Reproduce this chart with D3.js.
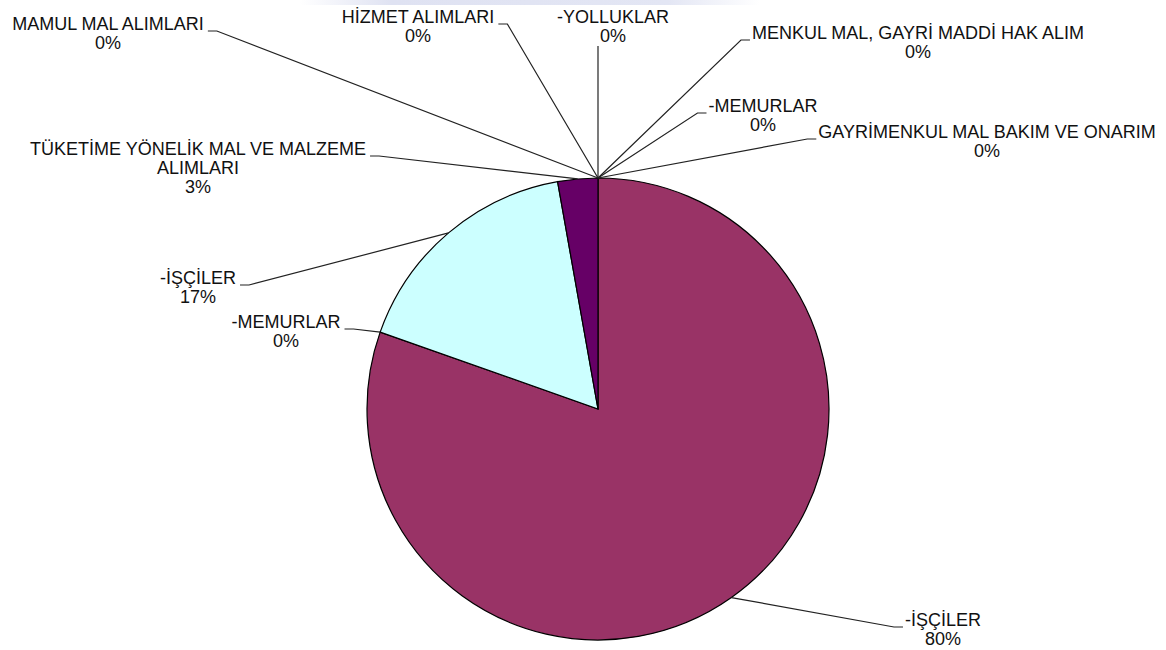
<!DOCTYPE html>
<html>
<head>
<meta charset="utf-8">
<script src="https://cdn.jsdelivr.net/npm/d3@7"></script>
<style>
  body { margin: 0; background: #fff; }
  text { font-family: Arial, "Liberation Sans", sans-serif; font-size: 18px; fill: #111; }
</style>
</head>
<body>
<script>
// slices in the order they are drawn (clockwise from 12 o'clock)
var categories = [
  "-İŞÇİLER",
  "-MEMURLAR",
  "-İŞÇİLER",
  "TÜKETİME YÖNELİK MAL VE MALZEME\nALIMLARI",
  "MAMUL MAL ALIMLARI",
  "HİZMET ALIMLARI",
  "-YOLLUKLAR",
  "MENKUL MAL, GAYRİ MADDİ HAK ALIM",
  "-MEMURLAR",
  "GAYRİMENKUL MAL BAKIM VE ONARIM"
];
var values = [80.4, 0, 16.8, 2.8, 0, 0, 0, 0, 0, 0];
var colors = ["#993366", "#ffffcc", "#ccffff", "#660066", "#ff8080", "#0066cc", "#ccccff", "#000080", "#ff00ff", "#ffff00"];

// label placement: text centre x, first baseline y, which side the leader comes in from
var labelPos = [
  [943, 626, "left"],
  [286, 328, "right"],
  [198, 284, "right"],
  [198, 155, "right"],
  [108, 30, "right"],
  [418, 23, "right"],
  [613, 23, "below"],
  [918, 39, "left"],
  [763, 112, "left"],
  [987, 138, "left"]
];

var width = 1166, height = 650;
var cx = 598, cy = 409, radius = 231;
var lineH = 19;

var svg = d3.select("body").append("svg")
  .attr("width", width)
  .attr("height", height);

// faint band at the top edge
var grad = svg.append("defs").append("linearGradient").attr("id", "band");
grad.append("stop").attr("offset", "0%").attr("stop-color", "#dfe2f2").attr("stop-opacity", 0);
grad.append("stop").attr("offset", "20%").attr("stop-color", "#dfe2f2").attr("stop-opacity", 1);
grad.append("stop").attr("offset", "80%").attr("stop-color", "#e3e6f4").attr("stop-opacity", 1);
grad.append("stop").attr("offset", "100%").attr("stop-color", "#e3e6f4").attr("stop-opacity", 0);
svg.append("rect").attr("x", 300).attr("y", 0).attr("width", 460).attr("height", 5).attr("fill", "url(#band)");

var total = d3.sum(values);
var pie = d3.pie().sort(null).value(function(d){ return d; });
var arcs = pie(values);

var arc = d3.arc().innerRadius(0).outerRadius(radius);
var edge = d3.arc().innerRadius(radius).outerRadius(radius);

var g = svg.append("g").attr("transform", "translate(" + cx + "," + cy + ")");

g.selectAll("path.slice")
  .data(arcs.filter(function(d){ return d.value > 0; }))
  .enter().append("path")
  .attr("class", "slice")
  .attr("d", arc)
  .attr("fill", function(d){ return colors[d.index]; })
  .attr("stroke", "#000")
  .attr("stroke-width", 1.2);

// labels with leader lines
arcs.forEach(function(d, i){
  var lines = categories[i].split("\n");
  lines.push(Math.round(d.value / total * 100) + "%");
  var pos = labelPos[i];
  var t = svg.append("text")
    .attr("text-anchor", "middle");
  lines.forEach(function(l, k){
    t.append("tspan").attr("x", pos[0]).attr("y", pos[1] + k * lineH).text(l);
  });

  var p = edge.centroid(d);
  var target = [cx + p[0], cy + p[1]];
  var w = t.node().firstChild.getComputedTextLength();
  var pts;
  if (pos[2] == "left") {
    var ax = pos[0] - w / 2 - 2;
    pts = [target, [ax - 9, pos[1] + 1], [ax, pos[1] + 1]];
  } else if (pos[2] == "right") {
    var ax = pos[0] + w / 2 + 4;
    pts = [target, [ax + 9, pos[1] + 1], [ax, pos[1] + 1]];
  } else {
    pts = [target, [target[0], pos[1] + lines.length * lineH - 15]];
  }
  svg.append("path")
    .attr("d", d3.line()(pts))
    .attr("fill", "none")
    .attr("stroke", "#222")
    .attr("stroke-width", 1.2);
});
</script>
</body>
</html>
